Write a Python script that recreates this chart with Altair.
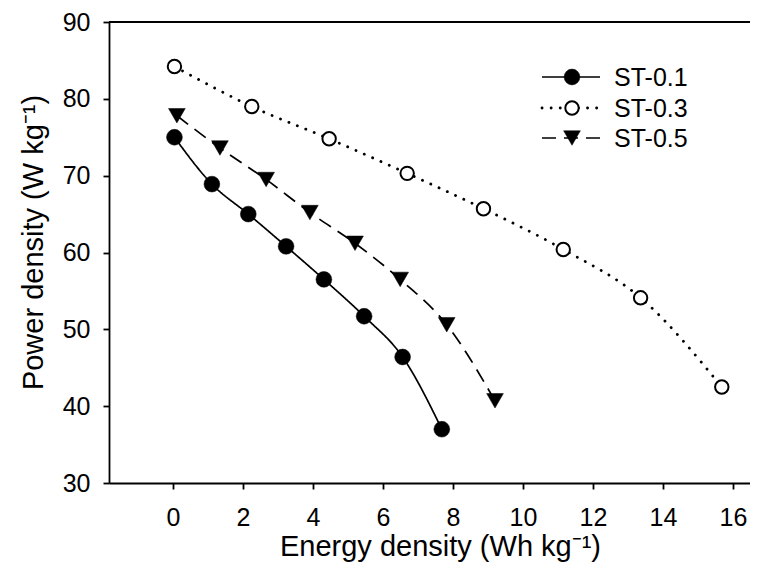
import altair as alt
import pandas as pd

series = ["ST-0.1", "ST-0.3", "ST-0.5"]
e_01 = [0.04, 1.11, 2.15, 3.23, 4.31, 5.46, 6.56, 7.68]
p_01 = [75.0, 68.9, 65.0, 60.8, 56.5, 51.7, 46.4, 37.0]
e_03 = [0.04, 2.25, 4.46, 6.69, 8.87, 11.15, 13.36, 15.68]
p_03 = [84.2, 79.0, 74.8, 70.3, 65.7, 60.4, 54.1, 42.5]
e_05 = [0.11, 1.34, 2.66, 3.91, 5.20, 6.49, 7.82, 9.20]
p_05 = [77.8, 73.6, 69.5, 65.2, 61.2, 56.5, 50.6, 40.7]
x_ticks = [0, 2, 4, 6, 8, 10, 12, 14, 16]
y_ticks = [30, 40, 50, 60, 70, 80, 90]

FONT = "Liberation Sans"

frames = []
for name, es, ps in [(series[0], e_01, p_01), (series[1], e_03, p_03), (series[2], e_05, p_05)]:
    frames.append(pd.DataFrame({"series": name, "energy": es, "power": ps}))
df = pd.concat(frames, ignore_index=True)

xscale = alt.Scale(domain=[-1.83, 16.486], nice=False, zero=False)
yscale = alt.Scale(domain=[30, 90], nice=False, zero=False)

xenc = alt.X("energy:Q", scale=xscale,
             axis=alt.Axis(values=x_ticks, title="Energy density (Wh kg⁻¹)",
                           labelPadding=16, titleX=331, titleY=49))
yenc = alt.Y("power:Q", scale=yscale,
             axis=alt.Axis(values=y_ticks, title="Power density (W kg⁻¹)",
                           labelPadding=13, titleX=-61, titleY=220))

styles = {
    "ST-0.1": dict(dash=[1, 0], cap="butt", width=1.7, shape="circle", filled=True, size=250),
    "ST-0.3": dict(dash=[0.1, 9], cap="round", width=2.8, shape="circle", filled=False, size=180),
    "ST-0.5": dict(dash=[14, 8], cap="butt", width=1.7, shape="triangle-down", filled=True, size=280),
}

layers = []
for name in series:
    st = styles[name]
    sub = alt.Chart(df).transform_filter(alt.datum.series == name)
    line = sub.mark_line(color="black", strokeWidth=st["width"], strokeDash=st["dash"],
                         strokeCap=st["cap"], interpolate="monotone").encode(x=xenc, y=yenc)
    if st["filled"]:
        pt = sub.mark_point(shape=st["shape"], filled=True, fill="black", stroke="black",
                            strokeWidth=0.5, size=st["size"], opacity=1)
    else:
        pt = sub.mark_point(shape=st["shape"], filled=False, fill="white", stroke="black",
                            strokeWidth=2, size=st["size"], opacity=1, fillOpacity=1)
    pt = pt.encode(x=xenc, y=yenc)
    layers += [line, pt]

# top frame line
top = alt.Chart(pd.DataFrame({"v": [90]})).mark_rule(color="black", strokeWidth=1.8).encode(
    y=alt.Y("v:Q", scale=yscale))
layers.append(top)

# legend
leg_y = [55, 86, 116]
for i, name in enumerate(series):
    st = styles[name]
    ldf = pd.DataFrame({"label": [name]})
    base = alt.Chart(ldf)
    lline = base.mark_rule(color="black", strokeWidth=st["width"], strokeDash=st["dash"],
                           strokeCap=st["cap"]).encode(
        x=alt.value(433), x2=alt.value(491), y=alt.value(leg_y[i]))
    if st["filled"]:
        lpt = base.mark_point(shape=st["shape"], filled=True, fill="black", stroke="black",
                              strokeWidth=0.5, size=st["size"], opacity=1)
    else:
        lpt = base.mark_point(shape=st["shape"], filled=False, fill="white", stroke="black",
                              strokeWidth=2, size=st["size"], opacity=1, fillOpacity=1)
    lpt = lpt.encode(x=alt.value(463), y=alt.value(leg_y[i]))
    ltxt = base.mark_text(align="left", baseline="middle", font=FONT, fontSize=25,
                          color="black").encode(
        x=alt.value(505), y=alt.value(leg_y[i] + 1), text="label:N")
    layers += [lline, lpt, ltxt]

chart = alt.layer(*layers).properties(
    width=641, height=461,
    autosize=alt.AutoSizeParams(type="none"),
    padding={"left": 101, "top": 14, "right": 0, "bottom": 79},
    background="white",
).configure_view(stroke=None).configure_axis(
    grid=False, domainColor="black", domainWidth=1.8, tickColor="black", tickWidth=1.8,
    tickSize=6, labelFont=FONT, labelFontSize=25, labelColor="black",
    titleFont=FONT, titleFontSize=29, titleFontWeight="normal", titleColor="black",
)

chart.save("out.html", embed_options={"renderer": "svg", "actions": False})
